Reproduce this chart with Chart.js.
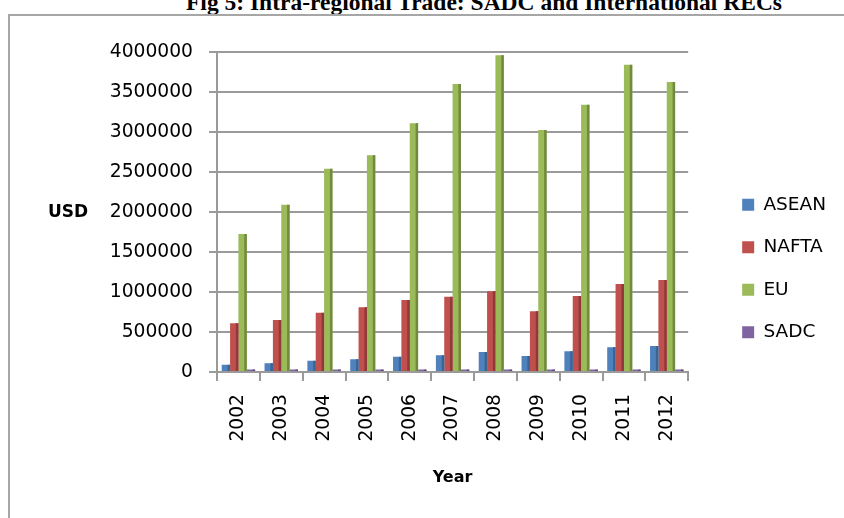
<!DOCTYPE html>
<html>
<head>
<meta charset="utf-8">
<script src="https://cdn.jsdelivr.net/npm/chart.js@4/dist/chart.umd.min.js"></script>
<style>
  body { margin: 0; background: #fff; overflow: hidden; }
  #wrap { position: relative; width: 844px; height: 518px; overflow: hidden; }
  #title {
    position: absolute; top: -9px; left: 484px; transform: translateX(-50%);
    white-space: nowrap; font: bold 23.5px "Liberation Serif", serif; line-height: 1; color: #000;
  }
  #frame {
    position: absolute; left: 8px; top: 14px; width: 900px; height: 600px;
    border: 2px solid #a6a6a6;
  }
  canvas { position: absolute; left: 0; top: 0; }
</style>
</head>
<body>
<div id="wrap">
  <div id="title">Fig 5: Intra-regional Trade: SADC and International RECs</div>
  <div id="frame"></div>
  <canvas id="tradeChart" width="844" height="518"></canvas>
</div>
<script>
// values (USD)
const years = ['2002', '2003', '2004', '2005', '2006', '2007', '2008', '2009', '2010', '2011', '2012'];
const asean = [90000, 110000, 140000, 160000, 190000, 210000, 250000, 200000, 260000, 310000, 325000];
const nafta = [610000, 650000, 740000, 810000, 900000, 940000, 1010000, 760000, 950000, 1100000, 1150000];
const eu = [1725000, 2090000, 2540000, 2710000, 3110000, 3600000, 3960000, 3025000, 3340000, 3840000, 3625000];
const sadc = [30000, 30000, 30000, 30000, 30000, 30000, 30000, 30000, 30000, 30000, 30000];
const yMin = 0;
const yMax = 4000000;
const yStep = 500000;

Chart.defaults.font.family = '"DejaVu Sans", Verdana, sans-serif';
Chart.defaults.color = '#000';

// darker right side on each bar, like the 3D columns in the original
const barSides = {
    id: 'barSides',
    afterDatasetsDraw(chart) {
        const ctx = chart.ctx;
        chart.data.datasets.forEach((ds, i) => {
            const meta = chart.getDatasetMeta(i);
            meta.data.forEach(bar => {
                const right = bar.x + bar.width / 2;
                ctx.save();
                ctx.fillStyle = ds.sideColor;
                ctx.fillRect(right - 2.5, bar.y, 2.5, bar.base - bar.y);
                ctx.restore();
            });
        });
    }
};

// horizontal "USD" axis label on the left
const usdLabel = {
    id: 'usdLabel',
    afterDraw(chart) {
        const ctx = chart.ctx;
        ctx.save();
        ctx.font = 'bold 17px "DejaVu Sans", sans-serif';
        ctx.fillStyle = '#000';
        ctx.textAlign = 'center';
        ctx.textBaseline = 'middle';
        ctx.fillText('USD', 68, 213);
        ctx.restore();
    }
};

const gridGrey = '#9a9a9a';

new Chart(document.getElementById('tradeChart').getContext('2d'), {
    type: 'bar',
    data: {
        labels: years,
        datasets: [
            { label: 'ASEAN', data: asean, backgroundColor: '#4F81BD', sideColor: '#3A6592', borderWidth: 0, xAxisID: 'x', yAxisID: 'y' },
            { label: 'NAFTA', data: nafta, backgroundColor: '#C0504D', sideColor: '#8F3A38', borderWidth: 0, xAxisID: 'x', yAxisID: 'y' },
            { label: 'EU', data: eu, backgroundColor: '#9BBB59', sideColor: '#718A40', borderWidth: 0, xAxisID: 'x', yAxisID: 'y' },
            { label: 'SADC', data: sadc, backgroundColor: '#8064A2', sideColor: '#5E4A78', borderWidth: 0, xAxisID: 'x', yAxisID: 'y' }
        ]
    },
    options: {
        responsive: false,
        animation: false,
        layout: { padding: { top: 19, right: 8, bottom: 0, left: 0 } },
        datasets: { bar: { categoryPercentage: 0.78, barPercentage: 1.0 } },
        plugins: {
            tooltip: { enabled: false },
            legend: {
                position: 'right',
                labels: { boxWidth: 12, boxHeight: 12, padding: 24, font: { size: 18.5 }, color: '#000' }
            }
        },
        scales: {
            x: {
                position: 'bottom',
                afterFit: s => { s.height = 146; },
                grid: { drawOnChartArea: false, color: gridGrey, lineWidth: 2, tickLength: 9 },
                border: { color: gridGrey, width: 2 },
                ticks: { autoSkip: false, minRotation: 90, maxRotation: 90, padding: 13, font: { size: 18.7 } },
                title: { display: true, text: 'Year', font: { size: 16, weight: 'bold' }, padding: { top: 0, bottom: 31 } }
            },
            xTop: {
                position: 'top',
                afterFit: s => { s.height = 33; },
                grid: { display: false },
                border: { display: false },
                ticks: { display: false }
            },
            y: {
                position: 'left',
                min: yMin,
                max: yMax,
                afterFit: s => { s.width = 217; },
                grid: { color: gridGrey, lineWidth: 2, tickLength: 8 },
                border: { color: gridGrey, width: 2 },
                ticks: { stepSize: yStep, padding: 16, font: { size: 18.7 }, callback: v => String(v) }
            },
            yRight: {
                position: 'right',
                afterFit: s => { s.width = 30; },
                grid: { display: false },
                border: { display: false },
                ticks: { display: false }
            }
        }
    },
    plugins: [barSides, usdLabel]
});
</script>
</body>
</html>
